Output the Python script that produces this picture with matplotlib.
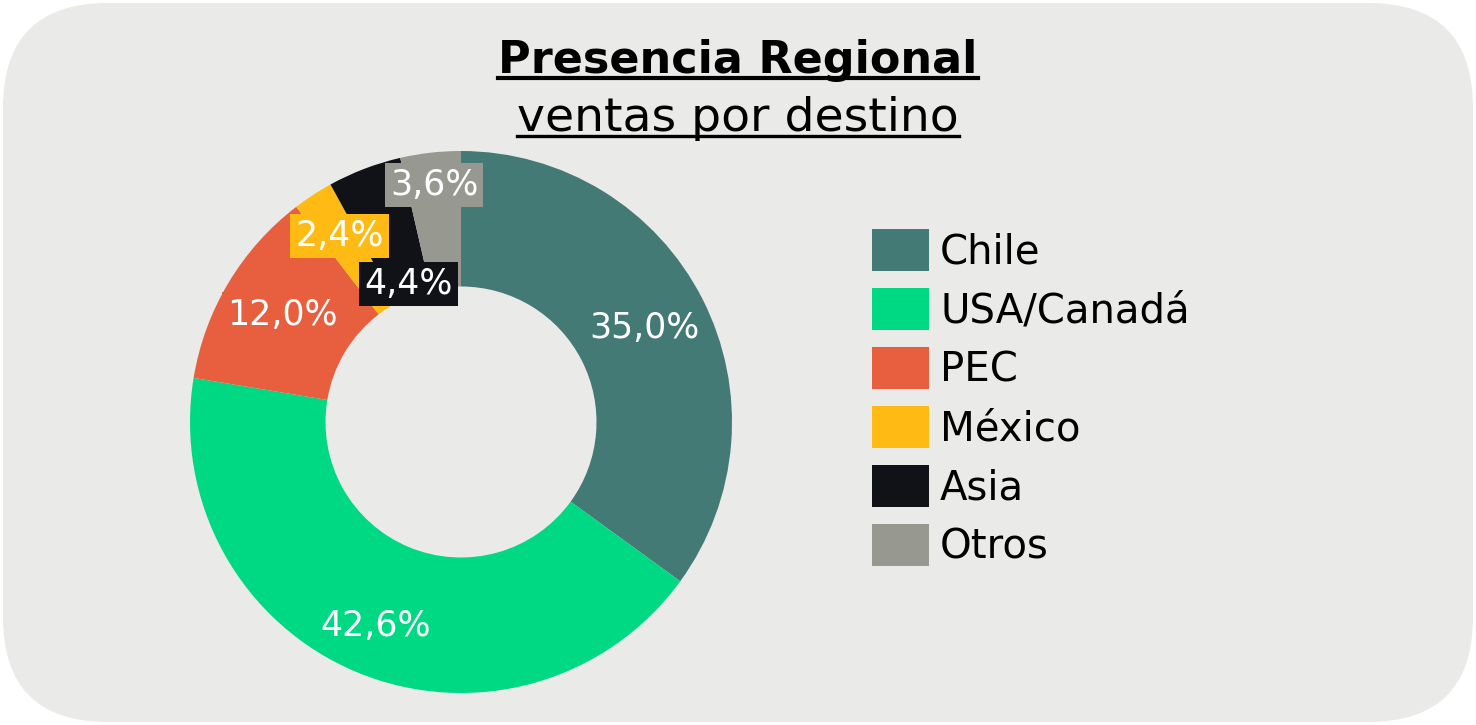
import matplotlib
matplotlib.use("Agg")
import matplotlib.pyplot as plt
import numpy as np
from matplotlib.patches import FancyBboxPatch
from matplotlib.lines import Line2D
from matplotlib.transforms import IdentityTransform

categories = ["Chile", "USA/Canadá", "PEC", "México", "Asia", "Otros"]
shares = [35.0, 42.6, 12.0, 2.4, 4.4, 3.6]
colors = ["#447a76", "#00d983", "#e75f3e", "#ffbb13", "#111217", "#979990"]
# radial position of each percentage label (fraction of outer radius)
label_radius = [0.76, 0.815, 0.77, 0.82, 0.546, 0.88]

W, H = 1476, 725
plt.rcParams["font.family"] = ["DejaVu Sans"]
fig = plt.figure(figsize=(W / 100, H / 100), dpi=100, facecolor="white")

# rounded grey card behind everything
card = FancyBboxPatch((3, 3), W - 6, H - 6,
                      boxstyle="round,pad=0,rounding_size=105",
                      transform=IdentityTransform(), facecolor="#eaeae8",
                      edgecolor="none", zorder=-10)
fig.patches.append(card)

cx, cy, r = 461, 422, 271
ax = fig.add_axes([(cx - r) / W, (H - cy - r) / H, 2 * r / W, 2 * r / H])
ax.set_aspect("equal")
ax.axis("off")

wedges, _ = ax.pie(shares, colors=colors, startangle=90, counterclock=False,
                   radius=1, wedgeprops=dict(width=0.5, linewidth=0))
ax.set_xlim(-1, 1)
ax.set_ylim(-1, 1)

for w, val, rr, c in zip(wedges, shares, label_radius, colors):
    ang = np.deg2rad((w.theta1 + w.theta2) / 2)
    ax.text(rr * np.cos(ang), rr * np.sin(ang), f"{val:.1f}%".replace(".", ","),
            ha="center", va="center", fontsize=25, color="white",
            bbox=dict(boxstyle="square,pad=0.15", facecolor=c, edgecolor="none"))

leg = fig.legend(wedges, categories, loc="upper left",
                 bbox_to_anchor=(872 / W, 1 - 229 / H), frameon=False,
                 fontsize=29, handlelength=1.41, handleheight=1.22,
                 handletextpad=0.28, labelspacing=0.385, borderpad=0,
                 borderaxespad=0)

title = fig.text(0.5, 1 - 73 / H, "Presencia Regional", ha="center",
                 va="baseline", fontsize=32, fontweight="bold", color="black")
sub = fig.text(0.5, 1 - 131 / H, "ventas por destino", ha="center",
               va="baseline", fontsize=34, color="black")

# underline both title lines
fig.canvas.draw()
renderer = fig.canvas.get_renderer()
for t, ypix, lw in [(title, 78, 3.0), (sub, 136, 2.4)]:
    bb = t.get_window_extent(renderer)
    fig.add_artist(Line2D([bb.x0, bb.x1], [H - ypix, H - ypix],
                          transform=IdentityTransform(), color="black", lw=lw))

fig.savefig("out.png", dpi=100, facecolor="white")
